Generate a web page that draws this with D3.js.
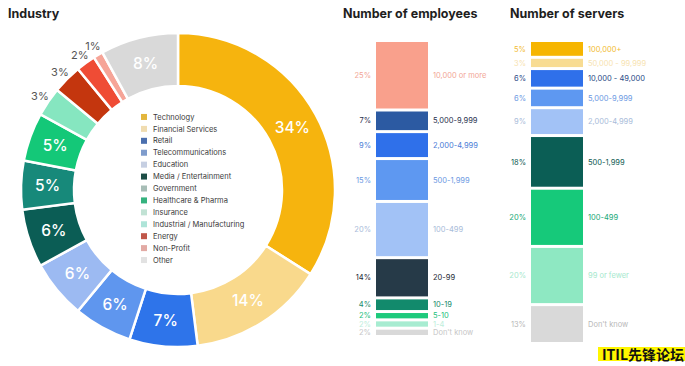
<!DOCTYPE html>
<head>
  <meta charset="utf-8">
  <script src="https://d3js.org/d3.v7.min.js"></script>
  <style>
    body { margin:0; background:#fff; }
    text { font-family: Inter, "Noto Sans", sans-serif; }
    .title { font-size: 12.5px; font-weight: 700; fill: #1e1e1e; }
  </style>
</head>

<body>
  <svg width="685" height="366"></svg>
  <script>

    // industry donut
    var industries = ["Technology", "Financial Services", "Retail", "Telecommunications", "Education",
      "Media / Entertainment", "Government", "Healthcare & Pharma", "Insurance",
      "Industrial / Manufacturing", "Energy", "Non-Profit", "Other"];
    var industryShare = [34, 14, 7, 6, 6, 6, 5, 5, 3, 3, 2, 1, 8];
    var industryColors = ["#f6b40e", "#f9d98c", "#2e74ea", "#5f96ee", "#9cbaf2", "#0b5d55",
      "#17897a", "#14c878", "#86e6c0", "#c4360e", "#ef4c35", "#f6a497", "#d9d9d9"];
    var legendColors = ["#e3b63d", "#f0dcb0", "#4b6fae", "#7f9ccc", "#c6cfe2", "#1d4d46",
      "#a7bdb6", "#35b27e", "#c1e2d4", "#aee4d8", "#c0574a", "#e2aaa4", "#e2e2e2"];

    // employees stacked bar
    var empLabels = ["10,000 or more", "5,000-9,999", "2,000-4,999", "500-1,999", "100-499",
      "20-99", "10-19", "5-10", "1-4", "Don't know"];
    var empShare = [25, 7, 9, 15, 20, 14, 4, 2, 2, 2];
    var empColors = ["#f9a08c", "#2c5aa2", "#2f70ea", "#5e98f1", "#a2c2f6", "#263a48",
      "#128a6c", "#1dca7c", "#a7ecd1", "#d9d9d9"];
    var empText = ["#f2a696", "#1f2f4d", "#4a7bd6", "#6c99e2", "#a8bbd9", "#1b2833",
      "#168a6b", "#22c07c", "#bdeedb", "#c6c6c6"];

    // servers stacked bar
    var srvLabels = ["100,000+", "50,000 - 99,999", "10,000 - 49,000", "5,000-9,999", "2,000-4,999",
      "500-1,999", "100-499", "99 or fewer", "Don't know"];
    var srvShare = [5, 3, 6, 6, 9, 18, 20, 20, 13];
    var srvColors = ["#f6b500", "#f8dc92", "#2f70ea", "#5e98f1", "#a2c2f6", "#0b5e55",
      "#16c97a", "#8ee8c2", "#d9d9d9"];
    var srvText = ["#f2bc33", "#f7e3b0", "#2a4a86", "#6c99e2", "#a8bbd9", "#0d5a52",
      "#17a877", "#a6e8cd", "#b8b8b8"];

    var svg = d3.select("svg");

    // ---- donut ----
    var cx = 178, cy = 190, rOut = 157, rIn = 104;
    var g = svg.append("g").attr("transform", "translate(" + cx + "," + cy + ")");

    var pie = d3.pie().sort(null).value(function(d) { return d; });
    var arc = d3.arc().innerRadius(rIn).outerRadius(rOut);
    var arcs = pie(industryShare);

    g.selectAll(".slice")
      .data(arcs)
      .enter()
      .append("path")
      .attr("d", arc)
      .attr("fill", function(d, i) { return industryColors[i]; })
      .attr("stroke", "#fff")
      .attr("stroke-width", 2.5);

    var labelArc = d3.arc().innerRadius(167).outerRadius(167);
    g.selectAll(".plabel")
      .data(arcs)
      .enter()
      .append("text")
      .attr("transform", function(d) {
        var c = d.data >= 5 ? arc.centroid(d) : labelArc.centroid(d);
        return "translate(" + c[0] + "," + c[1] + ")";
      })
      .attr("text-anchor", "middle")
      .attr("dy", "0.36em")
      .style("font-size", function(d) { return d.data >= 5 ? "15.5px" : "11px"; })
      .style("font-weight", function(d) { return d.data >= 5 ? 500 : 400; })
      .attr("fill", function(d) { return d.data >= 5 ? "#fff" : "#555"; })
      .text(function(d) { return d.data + "%"; });

    // legend
    var legY = d3.scaleBand().domain(industries).range([111, 266]);
    var leg = svg.append("g").selectAll(".leg")
      .data(industries)
      .enter()
      .append("g")
      .attr("transform", function(d) { return "translate(141," + legY(d) + ")"; });
    leg.append("rect")
      .attr("width", 6).attr("height", 6)
      .attr("y", legY.bandwidth() / 2 - 3)
      .attr("fill", function(d, i) { return legendColors[i]; });
    leg.append("text")
      .attr("x", 12)
      .attr("y", legY.bandwidth() / 2)
      .attr("dy", "0.35em")
      .style("font-size", "7.5px")
      .attr("fill", "#3a3a3a")
      .text(function(d) { return d; });

    svg.append("text").attr("class", "title").attr("x", 8).attr("y", 18).text("Industry");

    // ---- stacked bars ----
    function stackBar(x0, x1, top, bottom, gap, labels, share, colors, textColors) {
      var n = share.length;
      var y = d3.scaleLinear().domain([0, d3.sum(share)]).range([0, bottom - top - gap * (n - 1)]);
      var rows = [];
      var acc = 0;
      share.forEach(function(v, i) {
        rows.push({ label: labels[i], v: v, y: top + y(acc) + gap * i, h: y(v), i: i });
        acc += v;
      });
      var gb = svg.append("g");
      gb.selectAll("rect")
        .data(rows)
        .enter()
        .append("rect")
        .attr("x", x0)
        .attr("width", x1 - x0)
        .attr("y", function(d) { return d.y; })
        .attr("height", function(d) { return d.h; })
        .attr("fill", function(d) { return colors[d.i]; });
      gb.selectAll(".lp")
        .data(rows)
        .enter()
        .append("text")
        .attr("x", x0 - 5)
        .attr("y", function(d) { return d.y + d.h / 2; })
        .attr("dy", "0.35em")
        .attr("text-anchor", "end")
        .style("font-size", "7.5px")
        .attr("fill", function(d) { return textColors[d.i]; })
        .text(function(d) { return d.v + "%"; });
      gb.selectAll(".lr")
        .data(rows)
        .enter()
        .append("text")
        .attr("x", x1 + 5)
        .attr("y", function(d) { return d.y + d.h / 2; })
        .attr("dy", "0.35em")
        .style("font-size", "7.5px")
        .attr("fill", function(d) { return textColors[d.i]; })
        .text(function(d) { return d.label; });
    }

    stackBar(376, 428, 42, 335, 3, empLabels, empShare, empColors, empText);
    stackBar(531, 583, 42, 342, 3, srvLabels, srvShare, srvColors, srvText);

    svg.append("text").attr("class", "title").attr("x", 343).attr("y", 18).text("Number of employees");
    svg.append("text").attr("class", "title").attr("x", 510).attr("y", 18).text("Number of servers");

    // watermark
    svg.append("rect").attr("x", 598).attr("y", 347).attr("width", 87).attr("height", 14).attr("fill", "#fff600");
    svg.append("text")
      .attr("x", 684).attr("y", 360)
      .attr("text-anchor", "end")
      .style("font-family", "'Noto Sans CJK SC', sans-serif")
      .style("font-size", "14px")
      .style("font-weight", 700)
      .attr("fill", "#111")
      .text("ITIL先锋论坛");

  </script>
</body>
